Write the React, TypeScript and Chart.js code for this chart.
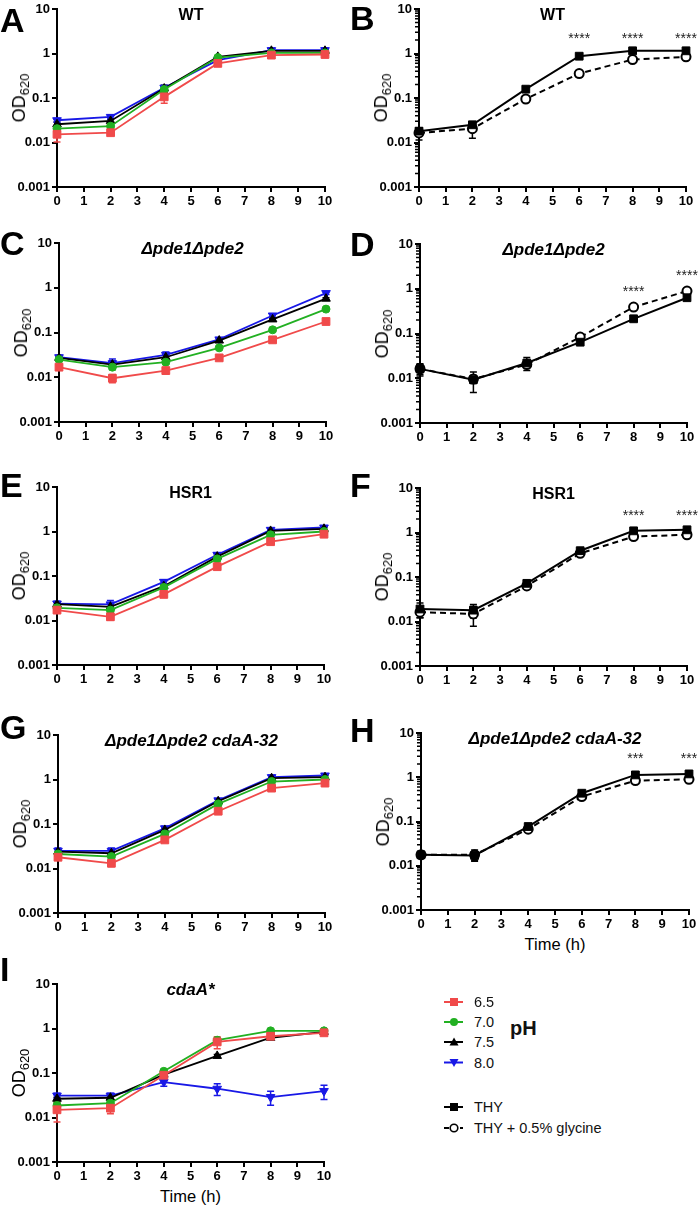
import React, { useEffect, useRef } from "react";
import { Chart, registerables } from "chart.js";

Chart.register(...registerables);

const FONT = "'Liberation Sans', Arial, Helvetica, sans-serif";

// ---------------- data ----------------
const timePoints = [0, 2, 4, 6, 8, 10];
const yTickValues = [0.001, 0.01, 0.1, 1, 10];
const phLabels = ["6.5", "7.0", "7.5", "8.0"];
const mediumLabels = ["THY", "THY + 0.5% glycine"];

// A – WT, pH series
const aPH65 = [0.0153, 0.0166, 0.106, 0.6, 0.92, 0.95];
const aPH70 = [0.0205, 0.0232, 0.155, 0.81, 1.03, 1.03];
const aPH75 = [0.0257, 0.0305, 0.163, 0.84, 1.15, 1.15];
const aPH80 = [0.0316, 0.0376, 0.17, 0.71, 1.19, 1.19];
const aErr65 = [0.005, 0.002, 0.03, 0.06, 0.05, 0.05];
const aErr70 = [0.003, 0.002, 0.02, 0.05, 0.05, 0.05];
const aErr75 = [0.003, 0.003, 0.03, 0.05, 0.08, 0.08];
const aErr80 = [0.003, 0.004, 0.02, 0.05, 0.12, 0.12];

// B – WT, medium
const bTHY = [0.018, 0.025, 0.158, 0.87, 1.15, 1.15];
const bGly = [0.0164, 0.0205, 0.095, 0.355, 0.73, 0.84];
const bErrTHY = [0.003, 0.003, 0.01, 0.05, 0.08, 0.08];
const bErrGly = [0.005, 0.008, 0.008, 0.06, 0.05, 0.05];
const bStarLabels = ["****", "****", "****"];
const bStarTimes = [6, 8, 10];

// C – Δpde1Δpde2, pH series
const cPH65 = [0.0168, 0.0095, 0.0141, 0.0271, 0.0685, 0.176];
const cPH70 = [0.0249, 0.0168, 0.0217, 0.0454, 0.115, 0.333];
const cPH75 = [0.0271, 0.0192, 0.028, 0.066, 0.196, 0.57];
const cPH80 = [0.028, 0.0206, 0.0316, 0.07, 0.24, 0.76];
const cErr65 = [0.002, 0.002, 0.002, 0.002, 0.005, 0.01];
const cErr70 = [0.002, 0.002, 0.002, 0.003, 0.008, 0.02];
const cErr75 = [0.002, 0.004, 0.004, 0.004, 0.01, 0.03];
const cErr80 = [0.003, 0.005, 0.005, 0.005, 0.02, 0.05];

// D – Δpde1Δpde2, medium
const dTHY = [0.0162, 0.0093, 0.0219, 0.064, 0.213, 0.63];
const dGly = [0.0162, 0.0096, 0.0203, 0.083, 0.39, 0.89];
const dErrTHY = [0.005, 0.0045, 0.007, 0.004, 0.01, 0.04];
const dErrGly = [0.004, 0.002, 0.003, 0.005, 0.02, 0.05];
const dStarLabels = ["****", "****"];
const dStarTimes = [8, 10];

// E – HSR1, pH series
const ePH65 = [0.0171, 0.0121, 0.0386, 0.162, 0.59, 0.87];
const ePH70 = [0.0193, 0.0171, 0.0555, 0.242, 0.84, 1.0];
const ePH75 = [0.0233, 0.0203, 0.059, 0.273, 1.03, 1.15];
const ePH80 = [0.024, 0.023, 0.074, 0.3, 1.09, 1.23];
const eErr65 = [0.002, 0.002, 0.004, 0.02, 0.05, 0.05];
const eErr70 = [0.002, 0.002, 0.004, 0.02, 0.05, 0.05];
const eErr75 = [0.003, 0.003, 0.005, 0.02, 0.06, 0.08];
const eErr80 = [0.003, 0.005, 0.008, 0.03, 0.1, 0.12];

// F – HSR1, medium
const fTHY = [0.0191, 0.018, 0.072, 0.39, 1.09, 1.15];
const fGly = [0.0162, 0.0148, 0.063, 0.34, 0.81, 0.89];
const fErrTHY = [0.007, 0.006, 0.005, 0.03, 0.08, 0.08];
const fErrGly = [0.004, 0.007, 0.004, 0.02, 0.04, 0.04];
const fStarLabels = ["****", "****"];
const fStarTimes = [8, 10];

// G – Δpde1Δpde2 cdaA-32, pH series
const gPH65 = [0.0179, 0.0131, 0.0439, 0.194, 0.64, 0.83];
const gPH70 = [0.0212, 0.0185, 0.0598, 0.283, 0.9, 1.0];
const gPH75 = [0.024, 0.022, 0.0736, 0.325, 1.07, 1.13];
const gPH80 = [0.025, 0.025, 0.08, 0.34, 1.13, 1.23];
const gErr65 = [0.002, 0.002, 0.004, 0.02, 0.05, 0.05];
const gErr70 = [0.002, 0.002, 0.004, 0.02, 0.05, 0.05];
const gErr75 = [0.003, 0.003, 0.005, 0.03, 0.06, 0.08];
const gErr80 = [0.004, 0.004, 0.008, 0.03, 0.1, 0.12];

// H – Δpde1Δpde2 cdaA-32, medium
const hTHY = [0.0177, 0.0171, 0.077, 0.436, 1.13, 1.19];
const hGly = [0.0177, 0.0177, 0.067, 0.366, 0.84, 0.9];
const hErrTHY = [0.003, 0.004, 0.005, 0.03, 0.05, 0.05];
const hErrGly = [0.002, 0.005, 0.004, 0.02, 0.04, 0.04];
const hStarLabels = ["***", "***"];
const hStarTimes = [8, 10];

// I – cdaA*, pH series
const iPH65 = [0.0149, 0.0162, 0.089, 0.5, 0.67, 0.8];
const iPH70 = [0.0186, 0.021, 0.109, 0.546, 0.885, 0.885];
const iPH75 = [0.0264, 0.0278, 0.092, 0.242, 0.62, 0.84];
const iPH80 = [0.031, 0.031, 0.0626, 0.0443, 0.0288, 0.0393];
const iErr65 = [0.007, 0.004, 0.01, 0.15, 0.05, 0.05];
const iErr70 = [0.003, 0.003, 0.01, 0.05, 0.05, 0.05];
const iErr75 = [0.002, 0.002, 0.01, 0.02, 0.05, 0.05];
const iErr80 = [0.004, 0.004, 0.012, 0.013, 0.01, 0.014];

// ---------------- styles ----------------
const RED = "#F04A4A";
const GREEN = "#22B022";
const BLUE = "#1818E6";
const BLACK = "#000000";

const PH_STYLES = [
  { color: RED, pointStyle: "rect", radius: 5.5, rotation: 0 },
  { color: GREEN, pointStyle: "circle", radius: 4, rotation: 0 },
  { color: BLACK, pointStyle: "triangle", radius: 5, rotation: 0 },
  { color: BLUE, pointStyle: "triangle", radius: 5, rotation: 180 },
];
const MEDIUM_STYLES = [
  { color: BLACK, pointStyle: "rect", radius: 5.5, rotation: 0, open: false, dash: [] as number[] },
  { color: BLACK, pointStyle: "circle", radius: 4.5, rotation: 0, open: true, dash: [6, 4] },
];

// geometry of canvases around each plot area
const YW = 55;
const PT = 14;
const PR = 16;
const XH = 24;

type Panel = {
  letter: string;
  letterLeft: number;
  letterTop: number;
  title: string;
  italic: boolean;
  L: number;
  R: number;
  T: number;
  B: number;
  kind: "ph" | "medium";
  series: number[][];
  errors: number[][];
  minor: boolean;
  starLabels?: string[];
  starTimes?: number[];
  starY?: number[];
  timeY?: number;
};

const PANELS: Panel[] = [
  { letter: "A", letterLeft: 0, letterTop: 3, title: "WT", italic: false, L: 57, R: 325, T: 9, B: 187, kind: "ph",
    series: [aPH65, aPH70, aPH75, aPH80], errors: [aErr65, aErr70, aErr75, aErr80], minor: false },
  { letter: "B", letterLeft: 350, letterTop: 1, title: "WT", italic: false, L: 419, R: 686, T: 9, B: 187, kind: "medium",
    series: [bTHY, bGly], errors: [bErrTHY, bErrGly], minor: true,
    starLabels: bStarLabels, starTimes: bStarTimes, starY: [2.6, 2.6, 2.6] },
  { letter: "C", letterLeft: 0, letterTop: 226, title: "\u0394pde1\u0394pde2", italic: true, L: 59, R: 326, T: 243, B: 422, kind: "ph",
    series: [cPH65, cPH70, cPH75, cPH80], errors: [cErr65, cErr70, cErr75, cErr80], minor: false },
  { letter: "D", letterLeft: 350, letterTop: 227, title: "\u0394pde1\u0394pde2", italic: true, L: 420, R: 687, T: 244, B: 423, kind: "medium",
    series: [dTHY, dGly], errors: [dErrTHY, dErrGly], minor: true,
    starLabels: dStarLabels, starTimes: dStarTimes, starY: [1.02, 2.4] },
  { letter: "E", letterLeft: 0, letterTop: 468, title: "HSR1", italic: false, L: 57, R: 324, T: 487, B: 665, kind: "ph",
    series: [ePH65, ePH70, ePH75, ePH80], errors: [eErr65, eErr70, eErr75, eErr80], minor: false },
  { letter: "F", letterLeft: 350, letterTop: 468, title: "HSR1", italic: false, L: 420, R: 687, T: 488, B: 666, kind: "medium",
    series: [fTHY, fGly], errors: [fErrTHY, fErrGly], minor: true,
    starLabels: fStarLabels, starTimes: fStarTimes, starY: [2.9, 2.9] },
  { letter: "G", letterLeft: 0, letterTop: 710, title: "\u0394pde1\u0394pde2 cdaA-32", italic: true, L: 58, R: 325, T: 735, B: 913, kind: "ph",
    series: [gPH65, gPH70, gPH75, gPH80], errors: [gErr65, gErr70, gErr75, gErr80], minor: false },
  { letter: "H", letterLeft: 350, letterTop: 713, title: "\u0394pde1\u0394pde2 cdaA-32", italic: true, L: 421, R: 689, T: 733, B: 910, kind: "medium",
    series: [hTHY, hGly], errors: [hErrTHY, hErrGly], minor: true,
    starLabels: hStarLabels, starTimes: hStarTimes, starY: [3.2, 3.2], timeY: 944 },
  { letter: "I", letterLeft: 0, letterTop: 952, title: "cdaA*", italic: true, L: 57, R: 324, T: 984, B: 1162, kind: "ph",
    series: [iPH65, iPH70, iPH75, iPH80], errors: [iErr65, iErr70, iErr75, iErr80], minor: false, timeY: 1196 },
];

// ---------------- plugins ----------------
const errorBarPlugin = {
  id: "errorBars",
  beforeDatasetsDraw(chart: any) {
    const ctx = chart.ctx;
    const ys = chart.scales.y;
    chart.data.datasets.forEach((ds: any, i: number) => {
      const errs: number[] | undefined = ds.errors;
      if (!errs) return;
      const meta = chart.getDatasetMeta(i);
      meta.data.forEach((pt: any, j: number) => {
        const e = errs[j];
        if (!e) return;
        const v = ds.data[j].y;
        const top = ys.getPixelForValue(v + e);
        const bot = ys.getPixelForValue(Math.max(v - e, 0.0002));
        ctx.save();
        ctx.strokeStyle = ds.borderColor;
        ctx.lineWidth = 1.5;
        ctx.setLineDash([]);
        ctx.beginPath();
        ctx.moveTo(pt.x, top);
        ctx.lineTo(pt.x, bot);
        ctx.moveTo(pt.x - 3.5, top);
        ctx.lineTo(pt.x + 3.5, top);
        ctx.moveTo(pt.x - 3.5, bot);
        ctx.lineTo(pt.x + 3.5, bot);
        ctx.stroke();
        ctx.restore();
      });
    });
  },
};

// asterisks and (for the right-hand panels) minor log ticks
function makeOverlayPlugin(p: Panel) {
  return {
    id: "overlay",
    afterDatasetsDraw(chart: any) {
      const ctx = chart.ctx;
      const xs = chart.scales.x;
      const ys = chart.scales.y;
      if (p.minor) {
        const left = chart.chartArea.left;
        ctx.save();
        ctx.strokeStyle = "#000";
        ctx.lineWidth = 1.5;
        ctx.setLineDash([]);
        ctx.beginPath();
        for (let ex = -3; ex <= 0; ex++) {
          for (let k = 2; k <= 9; k++) {
            const y = ys.getPixelForValue(k * Math.pow(10, ex));
            ctx.moveTo(left - 4, y);
            ctx.lineTo(left - 0.5, y);
          }
        }
        ctx.stroke();
        ctx.restore();
      }
      if (p.starLabels && p.starTimes && p.starY) {
        ctx.save();
        ctx.font = `14px ${FONT}`;
        ctx.fillStyle = "#222";
        ctx.textAlign = "center";
        ctx.textBaseline = "alphabetic";
        p.starLabels.forEach((lab, i) => {
          const x = xs.getPixelForValue(p.starTimes![i]);
          const y = ys.getPixelForValue(p.starY![i]) + 8;
          ctx.fillText(lab, x, y);
        });
        ctx.restore();
      }
    },
  };
}

function buildDatasets(p: Panel) {
  if (p.kind === "ph") {
    return p.series.map((vals, i) => {
      const s = PH_STYLES[i];
      return {
        label: phLabels[i],
        data: timePoints.map((t, j) => ({ x: t, y: vals[j] })),
        errors: p.errors[i],
        borderColor: s.color,
        backgroundColor: s.color,
        pointBackgroundColor: s.color,
        pointBorderColor: s.color,
        pointStyle: s.pointStyle,
        pointRadius: s.radius,
        pointRotation: s.rotation,
        pointBorderWidth: 1,
        borderWidth: 1.8,
        tension: 0,
        clip: false,
      };
    });
  }
  return p.series.map((vals, i) => {
    const s = MEDIUM_STYLES[i];
    return {
      label: mediumLabels[i],
      data: timePoints.map((t, j) => ({ x: t, y: vals[j] })),
      errors: p.errors[i],
      borderColor: s.color,
      backgroundColor: s.color,
      pointBackgroundColor: s.open ? "#ffffff" : s.color,
      pointBorderColor: s.color,
      pointStyle: s.pointStyle,
      pointRadius: s.radius,
      pointRotation: s.rotation,
      pointBorderWidth: s.open ? 2 : 1,
      borderWidth: 2,
      borderDash: s.dash,
      tension: 0,
      clip: false,
    };
  });
}

function makeChart(canvas: HTMLCanvasElement, p: Panel) {
  const tickFont = { family: FONT, size: 13, weight: "bold" as const };
  return new Chart(canvas, {
    type: "line",
    data: { datasets: buildDatasets(p) as any },
    options: {
      responsive: false,
      animation: false,
      devicePixelRatio: 1,
      layout: { padding: { left: 0, top: PT, right: PR, bottom: 0 } },
      plugins: {
        legend: { display: false },
        tooltip: { enabled: false },
        title: { display: false },
      },
      scales: {
        x: {
          type: "linear",
          min: 0,
          max: 10,
          ticks: { stepSize: 1, color: "#000", font: tickFont, padding: 2, maxRotation: 0, autoSkip: false },
          grid: { display: true, drawOnChartArea: false, drawTicks: true, tickLength: 5, color: "#000", lineWidth: 2 },
          border: { display: true, color: "#000", width: 2 },
          afterFit: (s: any) => {
            s.height = XH;
          },
        },
        y: {
          type: "logarithmic",
          min: 0.001,
          max: 10,
          afterBuildTicks: (s: any) => {
            s.ticks = yTickValues.map((v) => ({ value: v, major: true }));
          },
          ticks: {
            color: "#000",
            font: tickFont,
            padding: 2,
            autoSkip: false,
            callback: (v: any) => String(v),
          },
          grid: { display: true, drawOnChartArea: false, drawTicks: true, tickLength: 5, color: "#000", lineWidth: 2 },
          border: { display: true, color: "#000", width: 2 },
          afterFit: (s: any) => {
            s.width = YW;
          },
        },
      },
    } as any,
    plugins: [errorBarPlugin, makeOverlayPlugin(p)],
  });
}

// ---------------- components ----------------
function Legend() {
  const rows = [1002, 1022, 1042, 1062.5];
  const top = 990;
  const thyY = 1107 - top;
  const glyY = 1128 - top;
  return (
    <>
      <svg
        style={{ position: "absolute", left: 440, top, width: 30, height: 150 }}
        width={30}
        height={150}
      >
        {rows.map((ry, i) => {
          const y = ry - top;
          const c = PH_STYLES[i].color;
          return (
            <g key={i}>
              <line x1={4} x2={23} y1={y} y2={y} stroke={c} strokeWidth={2} />
              {i === 0 && <rect x={10} y={y - 4} width={8} height={8} fill={c} />}
              {i === 1 && <circle cx={14} cy={y} r={4} fill={c} />}
              {i === 2 && <polygon points={`14,${y - 4.5} 18.5,${y + 3.5} 9.5,${y + 3.5}`} fill={c} />}
              {i === 3 && <polygon points={`14,${y + 4.5} 18.5,${y - 3.5} 9.5,${y - 3.5}`} fill={c} />}
            </g>
          );
        })}
        <line x1={4} x2={23} y1={thyY} y2={thyY} stroke="#000" strokeWidth={2} />
        <rect x={10} y={thyY - 4} width={8} height={8} fill="#000" />
        <line x1={4} x2={9} y1={glyY} y2={glyY} stroke="#000" strokeWidth={2} />
        <circle cx={14} cy={glyY} r={3.8} fill="#fff" stroke="#000" strokeWidth={1.6} />
        <line x1={20} x2={23} y1={glyY} y2={glyY} stroke="#000" strokeWidth={2} />
      </svg>
      {phLabels.map((lab, i) => (
        <div
          key={lab}
          style={{ position: "absolute", left: 474, top: rows[i] - 9, fontSize: 14.5, lineHeight: "18px", color: "#111", whiteSpace: "nowrap" }}
        >
          {lab}
        </div>
      ))}
      <div style={{ position: "absolute", left: 510, top: 1016, fontSize: 20, lineHeight: "24px", fontWeight: "bold", color: "#111" }}>pH</div>
      <div style={{ position: "absolute", left: 474, top: 1107 - 9, fontSize: 14.5, lineHeight: "18px", color: "#111", whiteSpace: "nowrap" }}>
        {mediumLabels[0]}
      </div>
      <div style={{ position: "absolute", left: 474, top: 1128 - 9, fontSize: 14.5, lineHeight: "18px", color: "#111", whiteSpace: "nowrap" }}>
        {mediumLabels[1]}
      </div>
    </>
  );
}

export default function App() {
  const refs = useRef<(HTMLCanvasElement | null)[]>([]);

  useEffect(() => {
    const charts = PANELS.map((p, i) => makeChart(refs.current[i] as HTMLCanvasElement, p));
    return () => {
      charts.forEach((c) => c.destroy());
    };
  }, []);

  return (
    <div
      style={{
        position: "absolute",
        left: 0,
        top: 0,
        width: 700,
        height: 1207,
        overflow: "hidden",
        background: "#fff",
        fontFamily: FONT,
      }}
    >
      {PANELS.map((p, i) => {
        const cw = p.R - p.L + YW + PR;
        const ch = p.B - p.T + PT + XH;
        const cx = (p.L + p.R) / 2;
        return (
          <React.Fragment key={p.letter}>
            <canvas
              ref={(el) => {
                refs.current[i] = el;
              }}
              width={cw}
              height={ch}
              style={{ position: "absolute", left: p.L - YW, top: p.T - PT, width: cw, height: ch, display: "block" }}
            />
            <div
              style={{
                position: "absolute",
                left: p.letterLeft,
                top: p.letterTop,
                fontSize: 34,
                lineHeight: "34px",
                fontWeight: "bold",
                color: "#000",
              }}
            >
              {p.letter}
            </div>
            <div
              style={{
                position: "absolute",
                left: p.L - 20,
                width: p.R - p.L + 40,
                top: p.T - 4,
                textAlign: "center",
                fontSize: p.italic ? 17 : 16,
                lineHeight: "20px",
                fontWeight: "bold",
                fontStyle: p.italic ? "italic" : "normal",
                color: "#000",
                whiteSpace: "nowrap",
              }}
            >
              {p.title}
            </div>
            <div
              style={{
                position: "absolute",
                left: p.L - 37,
                top: (p.T + p.B) / 2,
                transform: "translate(-50%, -50%) rotate(-90deg)",
                fontSize: 18,
                lineHeight: "22px",
                color: "#000",
                whiteSpace: "nowrap",
              }}
            >
              OD<span style={{ fontSize: 13, position: "relative", top: 4 }}>620</span>
            </div>
            {p.timeY !== undefined && (
              <div
                style={{
                  position: "absolute",
                  left: cx - 60,
                  width: 120,
                  top: p.timeY - 10,
                  textAlign: "center",
                  fontSize: 16.5,
                  lineHeight: "20px",
                  color: "#000",
                  whiteSpace: "nowrap",
                }}
              >
                Time (h)
              </div>
            )}
          </React.Fragment>
        );
      })}
      <Legend />
    </div>
  );
}
